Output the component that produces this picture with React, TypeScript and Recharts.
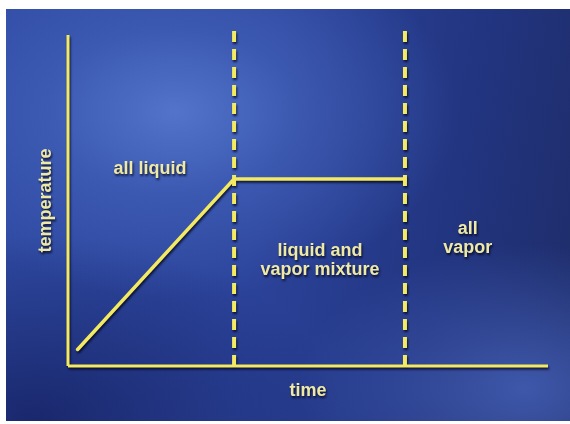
import { LineChart, Line, XAxis, YAxis, ReferenceLine, ReferenceDot } from 'recharts';

// heating curve: time vs temperature (arbitrary units 0..100)
const times = [2, 34.6, 70.2];
const temps = [5, 56.5, 56.5];
const phaseBoundaries = [34.6, 70.2];
const dashTop = 102;

const regionNames = [['all liquid'], ['liquid and', 'vapor mixture'], ['all', 'vapor']];
const regionAnchorX = [17.1, 52.5, 83.3];
const regionAnchorY = [59.8, 32.3, 38.8];

const YELLOW = '#f3ea62';
const TEXT = '#efe9a6';
const FONT = '"Liberation Sans", Arial, Helvetica, sans-serif';

const data = times.map((t, i) => ({ time: t, temp: temps[i] }));

function RegionText({ cx, cy, lines }: { cx?: number; cy?: number; lines: string[] }) {
  if (cx == null || cy == null) return null;
  const lh = 19;
  const start = cy - ((lines.length - 1) * lh) / 2;
  return (
    <text textAnchor="middle" fill={TEXT} fontSize={18} fontWeight="bold" fontFamily={FONT}>
      {lines.map((l, i) => (
        <tspan key={i} x={cx} y={start + i * lh + 6}>
          {l}
        </tspan>
      ))}
    </text>
  );
}

export default function App() {
  return (
    <div style={{ position: 'absolute', left: 0, top: 0, width: 570, height: 424, background: '#ffffff' }}>
      <div
        style={{
          position: 'absolute',
          left: 6,
          top: 9,
          width: 564,
          height: 412,
          background:
            'radial-gradient(ellipse 50% 45% at 30% 25%, rgba(84,118,204,0.95) 0%, rgba(70,102,190,0.6) 45%, rgba(60,90,180,0) 100%),' +
            'radial-gradient(ellipse 40% 35% at 92% 92%, rgba(66,92,176,0.9) 0%, rgba(60,85,170,0) 100%),' +
            'radial-gradient(ellipse 55% 45% at 5% 100%, rgba(22,34,100,0.85) 0%, rgba(22,34,100,0) 100%),' +
            'linear-gradient(100deg, #2f4aa2 0%, #2b439a 45%, #223581 75%, #1e2c68 100%)',
        }}
      >
        <div style={{ filter: 'drop-shadow(1px 2px 1px rgba(0,0,20,0.75))' }}>
          <LineChart width={564} height={412} data={data} margin={{ top: 26, right: 22, bottom: 0, left: 0 }}>
            <XAxis
              type="number"
              dataKey="time"
              domain={[0, 100]}
              tick={false}
              tickLine={false}
              height={55}
              axisLine={{ stroke: YELLOW, strokeWidth: 3 }}
              label={{
                value: 'time',
                position: 'insideTop',
                offset: 17,
                fill: TEXT,
                fontSize: 18,
                fontWeight: 'bold',
                fontFamily: FONT,
              }}
            />
            <YAxis
              type="number"
              domain={[0, 100]}
              tick={false}
              tickLine={false}
              width={62}
              axisLine={{ stroke: YELLOW, strokeWidth: 3 }}
              label={{
                value: 'temperature',
                angle: -90,
                position: 'center',
                dx: 8,
                fill: TEXT,
                fontSize: 18,
                fontWeight: 'bold',
                fontFamily: FONT,
              }}
            />
            {phaseBoundaries.map((x) => (
              <ReferenceLine
                key={x}
                segment={[
                  { x, y: 0 },
                  { x, y: dashTop },
                ]}
                ifOverflow="visible"
                stroke={YELLOW}
                strokeWidth={4}
                strokeDasharray="11 7"
              />
            ))}
            <Line
              type="linear"
              dataKey="temp"
              stroke={YELLOW}
              strokeWidth={3.5}
              strokeLinecap="round"
              dot={false}
              isAnimationActive={false}
            />
            {regionNames.map((lines, i) => (
              <ReferenceDot
                key={i}
                x={regionAnchorX[i]}
                y={regionAnchorY[i]}
                r={1}
                ifOverflow="visible"
                shape={(p: any) => <RegionText cx={p.cx} cy={p.cy} lines={lines} />}
              />
            ))}
          </LineChart>
        </div>
      </div>
    </div>
  );
}
